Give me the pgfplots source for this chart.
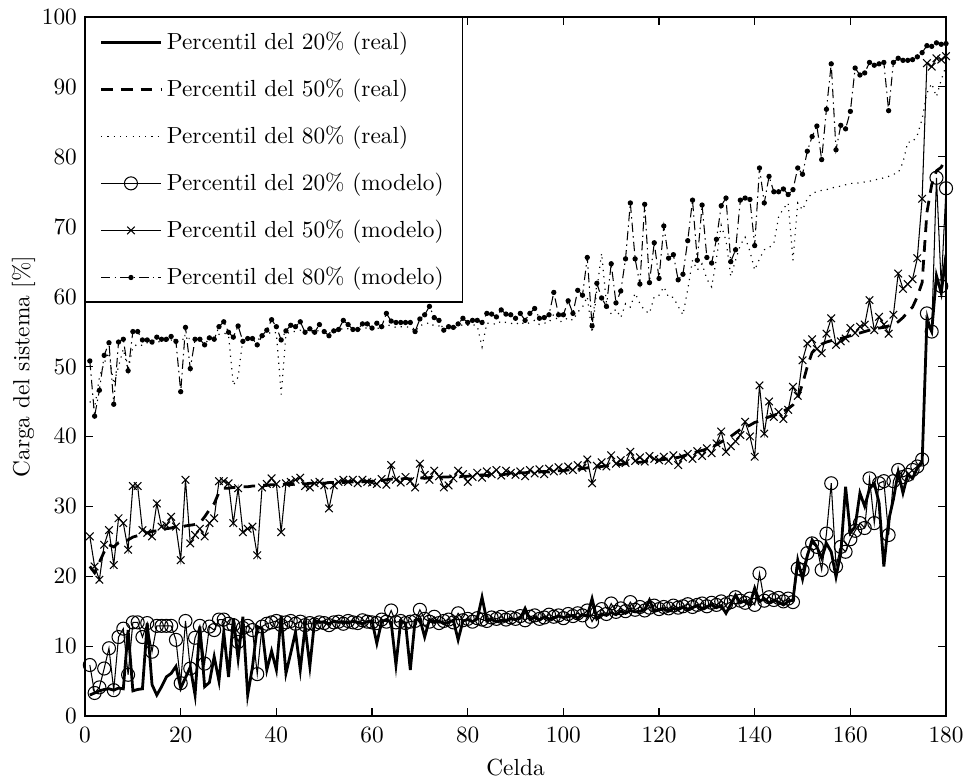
\documentclass[border=0pt]{standalone}
\usepackage{pgfplots}
\usepackage{pgfplotstable}
\usetikzlibrary{calc}
\pgfplotsset{compat=1.18}
\pgfplotstableread{
x r20 r50 r80 m20 m50 m80
1 3.0 21.4 45.0 7.3 25.7 50.8
2 3.3 20.5 44.0 3.3 21.4 42.9
3 3.6 22.0 48.5 4.1 19.5 46.6
4 3.8 23.5 50.5 6.8 24.5 51.6
5 3.9 24.5 52.0 9.7 26.6 53.4
6 3.7 24.2 47.5 3.7 21.6 44.6
7 4.0 24.8 50.0 11.3 28.3 53.5
8 3.9 25.0 52.5 12.5 27.6 53.9
9 12.3 25.2 49.5 5.9 23.8 49.4
10 3.6 25.6 52.8 13.4 32.9 55.0
11 3.8 25.8 53.2 13.4 32.9 55.0
12 3.9 26.0 53.0 11.3 26.6 53.8
13 13.3 26.2 53.4 13.3 26.2 53.8
14 4.5 26.4 53.2 9.2 25.7 53.5
15 3.0 26.5 53.5 12.9 30.4 54.2
16 4.2 26.7 53.6 12.9 27.1 53.9
17 5.6 26.8 53.6 12.9 27.3 53.9
18 6.1 26.9 53.8 12.9 28.5 54.3
19 7.1 27.1 53.5 10.9 27.1 53.6
20 4.0 27.0 53.8 4.7 22.3 46.4
21 5.5 27.2 54.0 13.6 33.8 55.6
22 7.0 27.3 54.0 6.8 24.7 49.7
23 3.0 27.4 53.9 11.2 25.9 53.9
24 12.8 27.6 54.0 12.9 26.8 53.9
25 4.2 28.5 53.8 7.5 25.7 53.1
26 4.8 29.5 54.1 12.8 27.6 54.1
27 8.5 30.4 54.2 12.3 28.3 53.9
28 5.0 32.0 54.6 13.8 33.6 55.7
29 12.0 32.6 54.8 13.8 33.6 56.4
30 5.6 32.6 54.5 13.2 33.3 54.9
31 14.0 32.7 47.3 13.0 27.6 54.2
32 8.2 32.7 48.5 10.6 32.6 55.8
33 14.2 32.8 54.0 12.6 26.3 53.6
34 3.0 32.8 54.2 12.9 26.8 54.0
35 7.0 32.9 54.0 12.3 27.1 54.0
36 12.8 32.9 53.8 6.0 23.0 53.1
37 12.5 33.0 54.2 12.8 32.7 54.4
38 6.6 33.0 54.5 13.2 33.2 55.2
39 9.3 33.1 55.0 13.4 34.0 56.7
40 6.6 33.1 54.8 13.6 33.2 55.7
41 14.4 33.1 46.0 13.0 26.3 53.8
42 6.1 33.2 54.6 13.4 33.3 55.1
43 9.0 33.1 55.0 13.6 33.5 55.9
44 12.0 33.2 55.0 13.2 33.8 55.7
45 6.6 33.3 55.2 13.5 34.1 56.4
46 12.8 33.2 54.8 13.0 32.9 54.9
47 7.1 33.3 55.0 13.3 32.7 55.4
48 13.7 33.3 54.9 13.1 33.3 54.9
49 13.4 33.4 55.2 13.4 33.5 56.0
50 13.5 33.3 55.0 13.3 33.0 55.0
51 13.2 33.4 54.8 13.0 29.7 54.4
52 13.6 33.4 55.0 13.4 33.0 55.1
53 13.4 33.5 55.1 13.5 33.5 55.3
54 13.5 33.4 55.5 13.2 33.8 56.6
55 13.3 33.5 55.4 13.6 33.5 56.0
56 13.6 33.5 55.2 13.4 33.8 55.3
57 13.4 33.6 55.2 13.3 33.3 55.3
58 13.2 33.5 55.5 13.7 33.8 56.1
59 13.5 33.6 55.5 13.5 33.5 56.1
60 13.6 33.6 55.3 13.4 33.4 55.5
61 10.4 33.7 55.5 13.3 33.2 56.2
62 13.5 33.7 55.4 13.8 33.9 55.7
63 13.8 33.8 56.0 13.5 33.1 57.6
64 13.4 33.9 55.8 15.1 35.9 56.5
65 7.3 33.8 55.6 13.4 33.8 56.3
66 13.6 33.9 55.7 13.6 33.4 56.3
67 13.3 34.0 55.7 13.3 34.2 56.3
68 6.6 33.9 55.6 13.5 33.6 56.3
69 13.7 34.0 55.0 13.6 32.7 55.0
70 13.9 34.1 55.9 15.2 36.1 56.8
71 11.3 34.0 56.0 13.9 34.5 57.4
72 13.8 34.1 56.3 13.5 33.8 58.6
73 13.5 34.2 55.8 14.2 35.1 57.0
74 13.6 34.1 55.8 13.3 34.3 56.6
75 13.2 34.2 55.2 13.6 32.7 55.2
76 13.4 34.2 55.4 13.8 33.0 55.7
77 13.7 34.3 55.5 13.4 34.0 55.6
78 10.9 34.2 55.7 14.7 35.1 56.1
79 13.6 34.3 56.0 13.7 34.6 56.9
80 13.8 34.3 55.9 13.9 33.5 56.3
81 13.5 34.4 56.0 13.5 34.2 56.6
82 13.9 34.4 55.8 14.0 34.8 56.6
83 17.0 34.5 52.8 13.8 34.1 56.3
84 13.6 34.4 56.2 13.6 35.0 57.6
85 13.8 34.5 56.2 14.1 34.6 57.5
86 13.5 34.6 56.0 13.9 35.2 57.1
87 13.7 34.5 56.5 14.2 34.4 58.1
88 13.6 34.6 56.3 13.8 35.1 57.5
89 13.9 34.7 56.2 14.1 34.8 57.4
90 13.8 34.7 56.0 13.9 34.5 56.9
91 14.0 34.8 56.4 14.3 35.0 57.6
92 15.4 34.8 56.0 13.7 34.3 56.6
93 13.8 34.9 56.3 14.2 35.2 57.6
94 14.1 34.8 56.6 14.4 34.7 58.3
95 13.7 34.9 56.0 13.9 35.3 56.9
96 14.2 35.0 56.2 14.1 34.6 57.0
97 13.9 34.9 56.3 14.5 35.4 57.4
98 14.0 35.0 57.5 14.2 35.0 60.6
99 14.3 35.1 56.4 14.4 35.6 57.4
100 14.1 35.1 56.5 14.0 35.1 57.4
101 14.2 35.2 57.0 14.6 35.7 59.4
102 14.4 35.3 56.6 14.3 35.2 57.6
103 14.0 35.3 57.8 14.7 35.9 60.9
104 14.5 35.4 58.5 14.4 35.5 60.2
105 14.3 35.5 60.0 15.1 36.7 65.6
106 16.8 35.5 54.8 13.5 33.3 55.8
107 13.9 35.6 61.0 14.8 35.8 61.9
108 14.6 35.7 66.2 15.3 36.3 59.8
109 14.4 35.8 59.0 14.6 35.7 58.6
110 14.8 35.9 57.5 16.1 37.3 64.7
111 14.5 36.0 58.2 14.9 36.1 59.1
112 15.0 36.0 57.0 15.4 36.6 60.8
113 14.7 36.1 59.0 15.0 36.2 65.4
114 15.1 36.2 58.5 16.3 37.8 73.4
115 14.9 36.3 60.5 15.2 36.5 65.4
116 15.0 36.3 59.0 15.6 37.0 61.8
117 15.2 36.4 58.0 15.1 36.4 73.2
118 16.6 36.5 57.6 15.5 37.2 62.0
119 15.0 36.5 60.0 15.8 36.8 67.7
120 15.2 36.6 60.2 15.3 36.6 62.6
121 15.3 36.7 61.4 15.6 37.1 70.1
122 15.0 36.8 59.9 15.4 36.5 65.5
123 15.4 36.9 59.9 15.8 37.3 66.0
124 15.2 37.0 58.6 15.5 35.9 62.4
125 15.6 37.2 57.4 15.7 37.0 63.2
126 15.3 37.4 61.0 16.0 37.5 68.0
127 15.5 37.6 65.2 15.6 36.8 73.8
128 15.8 37.8 63.8 15.9 37.9 65.2
129 15.4 38.0 64.7 16.1 37.2 73.1
130 15.6 38.2 62.5 15.7 38.3 65.6
131 15.9 38.5 61.4 16.2 37.6 64.8
132 15.5 38.8 65.4 15.9 39.0 68.2
133 15.8 39.2 70.2 16.4 40.7 73.0
134 14.7 39.6 68.0 16.0 37.8 74.1
135 16.0 40.0 62.9 16.3 38.6 65.0
136 17.3 40.5 65.2 17.0 39.3 66.7
137 16.2 41.0 67.4 16.5 40.2 73.8
138 16.5 41.3 68.5 16.2 42.1 74.1
139 16.0 41.6 66.5 16.8 40.0 73.9
140 18.3 42.0 63.8 15.9 37.1 67.3
141 16.4 42.2 65.4 20.4 47.3 78.4
142 16.8 42.5 66.7 16.5 40.4 73.4
143 16.2 42.8 67.0 17.0 45.0 77.2
144 16.6 43.0 67.6 16.6 42.8 75.0
145 16.3 43.3 71.4 16.9 43.5 75.0
146 15.9 43.6 72.6 16.4 42.5 75.4
147 16.4 44.0 73.4 16.8 43.8 74.6
148 16.6 44.5 65.2 16.3 47.1 75.3
149 22.3 45.5 73.4 21.1 45.8 78.4
150 19.6 47.5 72.4 20.9 50.9 77.5
151 22.9 50.0 74.0 23.3 53.3 80.8
152 25.2 52.0 74.8 24.7 53.9 82.9
153 24.2 52.8 75.0 24.2 52.5 84.4
154 22.6 53.2 75.2 20.9 51.9 79.6
155 24.7 53.5 75.3 26.1 54.7 86.8
156 23.5 53.7 75.5 33.3 56.9 93.3
157 19.9 53.9 75.7 21.4 53.1 81.0
158 23.3 54.0 75.8 24.2 53.6 84.5
159 32.8 54.2 76.0 23.5 54.0 84.0
160 26.2 54.4 76.2 25.3 55.5 86.5
161 27.1 54.6 76.2 26.5 54.8 92.7
162 31.9 54.8 76.3 27.6 55.7 91.7
163 30.0 55.0 76.4 26.9 56.0 92.0
164 32.5 55.2 76.5 34.0 59.5 93.5
165 33.3 55.4 76.7 27.6 55.2 93.1
166 30.5 55.5 76.8 33.3 57.1 93.3
167 21.4 55.6 77.0 33.6 56.0 93.5
168 28.0 55.8 77.2 25.9 54.7 86.6
169 31.0 56.0 77.5 33.6 57.4 93.5
170 34.9 56.4 77.7 35.2 63.3 94.1
171 31.9 57.0 79.2 34.2 61.1 93.8
172 34.6 57.8 82.1 34.5 61.8 93.8
173 34.0 58.5 82.1 35.2 62.5 93.9
174 35.5 60.0 83.1 35.7 65.5 94.3
175 36.2 62.0 85.4 36.7 74.0 94.9
176 56.5 72.0 89.1 57.6 93.4 95.9
177 55.0 76.0 90.5 55.0 92.9 95.8
178 63.0 78.0 88.6 77.0 94.1 96.3
179 60.5 78.5 91.0 61.5 93.9 96.1
180 66.0 80.0 93.0 75.5 94.4 96.2
}\data
\begin{document}
\begin{tikzpicture}
\begin{axis}[
  name=ax,
  scale only axis, width=369.5pt, height=300pt,
  xmin=0, xmax=180, ymin=0, ymax=100,
  xtick={0,20,...,180}, ytick={0,10,...,100},
  xlabel={Celda}, ylabel={Carga del sistema [\%]},
  ylabel shift=-4pt,
  xticklabel style={yshift=-1.5pt},
  tick align=inside, major tick length=3.5pt,
  axis line style={line width=0.6pt},
  every tick/.style={black, line width=0.5pt},
  legend cell align=left,
  legend style={at={(0,1)}, anchor=north west, draw=black, line width=0.6pt,
    inner xsep=6pt, inner ysep=4pt, row sep=7.2pt, font=\normalsize},
  legend image code/.code={\draw[mark repeat=2, mark phase=2, #1] plot coordinates {(0cm,0cm) (0.45cm,0cm) (0.9cm,0cm)};},
]
\addplot[black, line width=1.2pt, solid, no marks] table[x=x, y=r20] {\data};
\addlegendentry{Percentil del 20\% (real)}
\addplot[black, line width=1.2pt, dash pattern=on 5pt off 3.5pt, no marks] table[x=x, y=r50] {\data};
\addlegendentry{Percentil del 50\% (real)}
\addplot[black, line width=0.5pt, dash pattern=on 0.5pt off 2.2pt, no marks] table[x=x, y=r80] {\data};
\addlegendentry{Percentil del 80\% (real)}
\addplot[black, line width=0.45pt, solid, mark=o, mark size=2.8pt, mark options={solid, line width=0.45pt}] table[x=x, y=m20] {\data};
\addlegendentry{Percentil del 20\% (modelo)}
\addplot[black, line width=0.45pt, solid, mark=x, mark size=2.3pt, mark options={solid, line width=0.45pt}] table[x=x, y=m50] {\data};
\addlegendentry{Percentil del 50\% (modelo)}
\addplot[black, line width=0.45pt, dash pattern=on 4pt off 1.8pt on 0.6pt off 1.8pt, mark=*, mark size=0.9pt, mark options={solid}] table[x=x, y=m80] {\data};
\addlegendentry{Percentil del 80\% (modelo)}
\end{axis}
\pgfresetboundingbox
\path[use as bounding box] ($(ax.south west)+(-36.5pt,-26.6pt)$) rectangle ($(ax.north east)+(9pt,7.3pt)$);
\end{tikzpicture}
\end{document}
